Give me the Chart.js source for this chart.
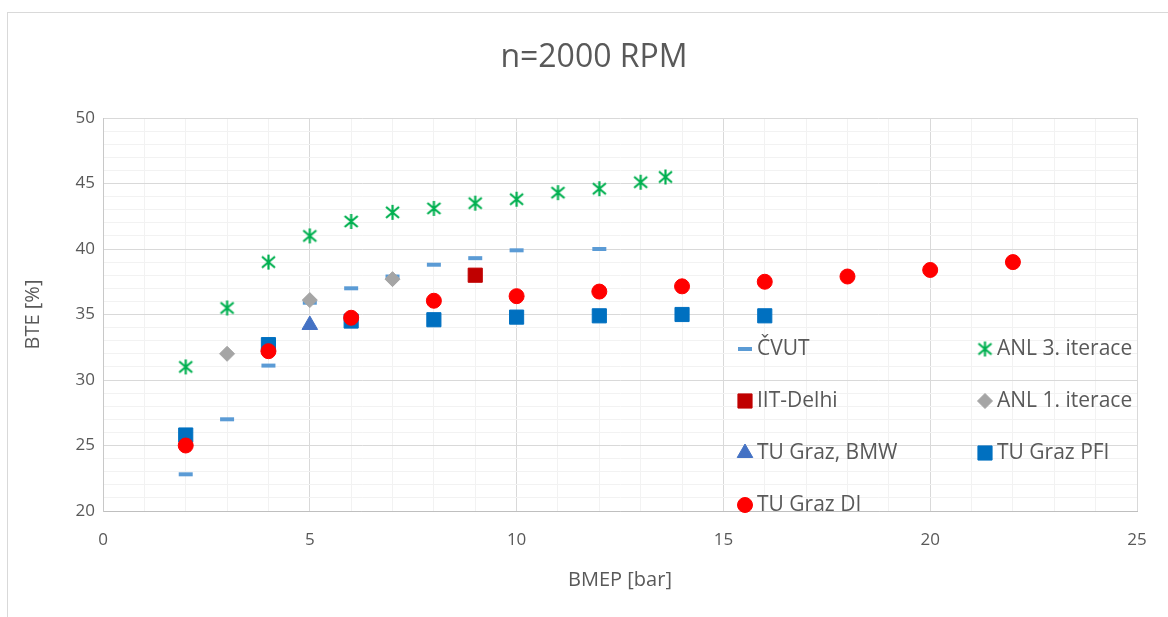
<!DOCTYPE html>
<html>
<head>
<meta charset="utf-8">
<title>n=2000 RPM</title>
<script src="https://cdn.jsdelivr.net/npm/chart.js@4.4.1/dist/chart.umd.min.js"></script>
<style>
  html, body { margin: 0; padding: 0; background: #fff; }
  #wrap { width: 1168px; height: 617px; }
</style>
</head>
<body>
<div id="wrap"><canvas id="bteChart" width="1168" height="617"></canvas></div>
<script>
// BMEP [bar] vs. BTE [%] for each source
const cvutBmep = [2, 3, 4, 5, 6, 7, 8, 9, 10, 12];
const cvutBte = [22.8, 27.0, 31.1, 35.9, 37.0, 37.9, 38.8, 39.3, 39.9, 40.0];

const anl3Bmep = [2, 3, 4, 5, 6, 7, 8, 9, 10, 11, 12, 13, 13.6];
const anl3Bte = [31.0, 35.5, 39.0, 41.0, 42.1, 42.8, 43.1, 43.5, 43.8, 44.3, 44.6, 45.1, 45.5];

const iitBmep = [9];
const iitBte = [38.0];

const anl1Bmep = [3, 5, 7];
const anl1Bte = [32.0, 36.1, 37.7];

const bmwBmep = [5];
const bmwBte = [34.2];

const pfiBmep = [2, 4, 6, 8, 10, 12, 14, 16];
const pfiBte = [25.8, 32.7, 34.5, 34.6, 34.8, 34.9, 35.0, 34.9];

const diBmep = [2, 4, 6, 8, 10, 12, 14, 16, 18, 20, 22];
const diBte = [25.0, 32.2, 34.75, 36.05, 36.4, 36.75, 37.15, 37.5, 37.9, 38.4, 39.0];

const textColor = '#595959';
Chart.defaults.font.family = "'Open Sans', 'DejaVu Sans', sans-serif";
Chart.defaults.color = textColor;

function toPoints(xs, ys) {
  return xs.map((x, i) => ({ x: x, y: ys[i] }));
}

// Excel style asterisk marker: an X with a vertical bar
function makeAsterisk(color) {
  const c = document.createElement('canvas');
  c.width = 17;
  c.height = 17;
  const g = c.getContext('2d');
  g.strokeStyle = color;
  g.lineWidth = 2.2;
  g.beginPath();
  g.moveTo(2, 3); g.lineTo(15, 14);
  g.moveTo(15, 3); g.lineTo(2, 14);
  g.moveTo(8.5, 1); g.lineTo(8.5, 16);
  g.stroke();
  return c;
}

const asterisk = makeAsterisk('#00B050');

// white background and the thin outer frame
const framePlugin = {
  id: 'frame',
  beforeDraw(chart) {
    const ctx = chart.ctx;
    ctx.save();
    ctx.fillStyle = '#ffffff';
    ctx.fillRect(0, 0, chart.width, chart.height);
    ctx.strokeStyle = '#D9D9D9';
    ctx.lineWidth = 1;
    ctx.strokeRect(7.5, 12.5, chart.width + 20, chart.height + 20);
    ctx.restore();
  }
};

// two column legend sitting inside the plot area, bottom right
const legendSlots = [[745, 349], [985, 349], [745, 401], [985, 401], [745, 453], [985, 453], [745, 505]];
const insideLegend = {
  id: 'insideLegend',
  afterDraw(chart) {
    const ctx = chart.ctx;
    ctx.save();
    chart.data.datasets.forEach((ds, i) => {
      const [x, y] = legendSlots[i];
      ctx.fillStyle = ds.backgroundColor;
      ctx.strokeStyle = ds.borderColor;
      ctx.lineWidth = ds.borderWidth;
      Chart.helpers.drawPoint(ctx, {
        pointStyle: ds.pointStyle,
        radius: ds.pointRadius,
        borderWidth: ds.borderWidth,
        rotation: 0
      }, x, y);
      ctx.fillStyle = textColor;
      ctx.font = "21px 'Open Sans', sans-serif";
      ctx.textAlign = 'left';
      ctx.textBaseline = 'middle';
      ctx.fillText(ds.label, x + 12, y);
    });
    ctx.restore();
  }
};

const gridColor = c => (c.tick && c.tick.value % 5 === 0) ? '#D9D9D9' : '#F2F2F2';
const everyFifth = v => (v % 5 === 0 ? v : '');

const ctx = document.getElementById('bteChart').getContext('2d');
const bteChart = new Chart(ctx, {
  type: 'scatter',
  data: {
    datasets: [
      {
        label: 'ČVUT',
        data: toPoints(cvutBmep, cvutBte),
        pointStyle: 'line',
        pointRadius: 7,
        borderWidth: 4,
        borderColor: '#5B9BD5',
        backgroundColor: '#5B9BD5',
        order: 7
      },
      {
        label: 'ANL 3. iterace',
        data: toPoints(anl3Bmep, anl3Bte),
        pointStyle: asterisk,
        pointRadius: 8,
        borderWidth: 0,
        borderColor: '#00B050',
        backgroundColor: '#00B050',
        order: 6
      },
      {
        label: 'IIT-Delhi',
        data: toPoints(iitBmep, iitBte),
        pointStyle: 'rect',
        pointRadius: 10,
        borderWidth: 1,
        borderColor: '#C00000',
        backgroundColor: '#C00000',
        order: 5
      },
      {
        label: 'ANL 1. iterace',
        data: toPoints(anl1Bmep, anl1Bte),
        pointStyle: 'rectRot',
        pointRadius: 7.5,
        borderWidth: 1,
        borderColor: '#A5A5A5',
        backgroundColor: '#A5A5A5',
        order: 4
      },
      {
        label: 'TU Graz, BMW',
        data: toPoints(bmwBmep, bmwBte),
        pointStyle: 'triangle',
        pointRadius: 9,
        borderWidth: 1,
        borderColor: '#4472C4',
        backgroundColor: '#4472C4',
        order: 3
      },
      {
        label: 'TU Graz PFI',
        data: toPoints(pfiBmep, pfiBte),
        pointStyle: 'rect',
        pointRadius: 10,
        borderWidth: 1,
        borderColor: '#0070C0',
        backgroundColor: '#0070C0',
        order: 2
      },
      {
        label: 'TU Graz DI',
        data: toPoints(diBmep, diBte),
        pointStyle: 'circle',
        pointRadius: 7.5,
        borderWidth: 1,
        borderColor: '#FF0000',
        backgroundColor: '#FF0000',
        order: 1
      }
    ]
  },
  options: {
    responsive: false,
    devicePixelRatio: 1,
    animation: false,
    events: [],
    layout: { padding: { left: 20, right: 0, top: 0, bottom: 0 } },
    plugins: {
      legend: { display: false },
      tooltip: { enabled: false },
      title: {
        display: true,
        text: 'n=2000 RPM',
        color: textColor,
        font: { size: 32, weight: 'normal', lineHeight: 1.25 },
        padding: { top: 38, bottom: 40 }
      }
    },
    scales: {
      x: {
        type: 'linear',
        min: 0,
        max: 25,
        ticks: {
          stepSize: 1,
          autoSkip: false,
          maxRotation: 0,
          padding: 19,
          font: { size: 17 },
          color: textColor,
          callback: everyFifth
        },
        grid: { drawTicks: false, color: gridColor, lineWidth: 1 },
        border: { color: '#BFBFBF' },
        title: {
          display: true,
          text: 'BMEP [bar]',
          color: textColor,
          font: { size: 20 },
          padding: { top: 0, bottom: 25 }
        },
        afterFit(scale) {
          scale.height = 106;
          scale.paddingLeft = 0;
          scale.paddingRight = 31;
        }
      },
      y: {
        type: 'linear',
        min: 20,
        max: 50,
        ticks: {
          stepSize: 1,
          autoSkip: false,
          padding: 8,
          font: { size: 17 },
          color: textColor,
          callback: everyFifth
        },
        grid: { drawTicks: false, color: gridColor, lineWidth: 1 },
        border: { color: '#C8C8C8' },
        title: {
          display: true,
          text: 'BTE [%]',
          color: textColor,
          font: { size: 20 },
          padding: { top: 1, bottom: 0 }
        },
        afterFit(scale) {
          scale.width = 83;
        }
      }
    }
  },
  plugins: [framePlugin, insideLegend]
});
</script>
</body>
</html>
